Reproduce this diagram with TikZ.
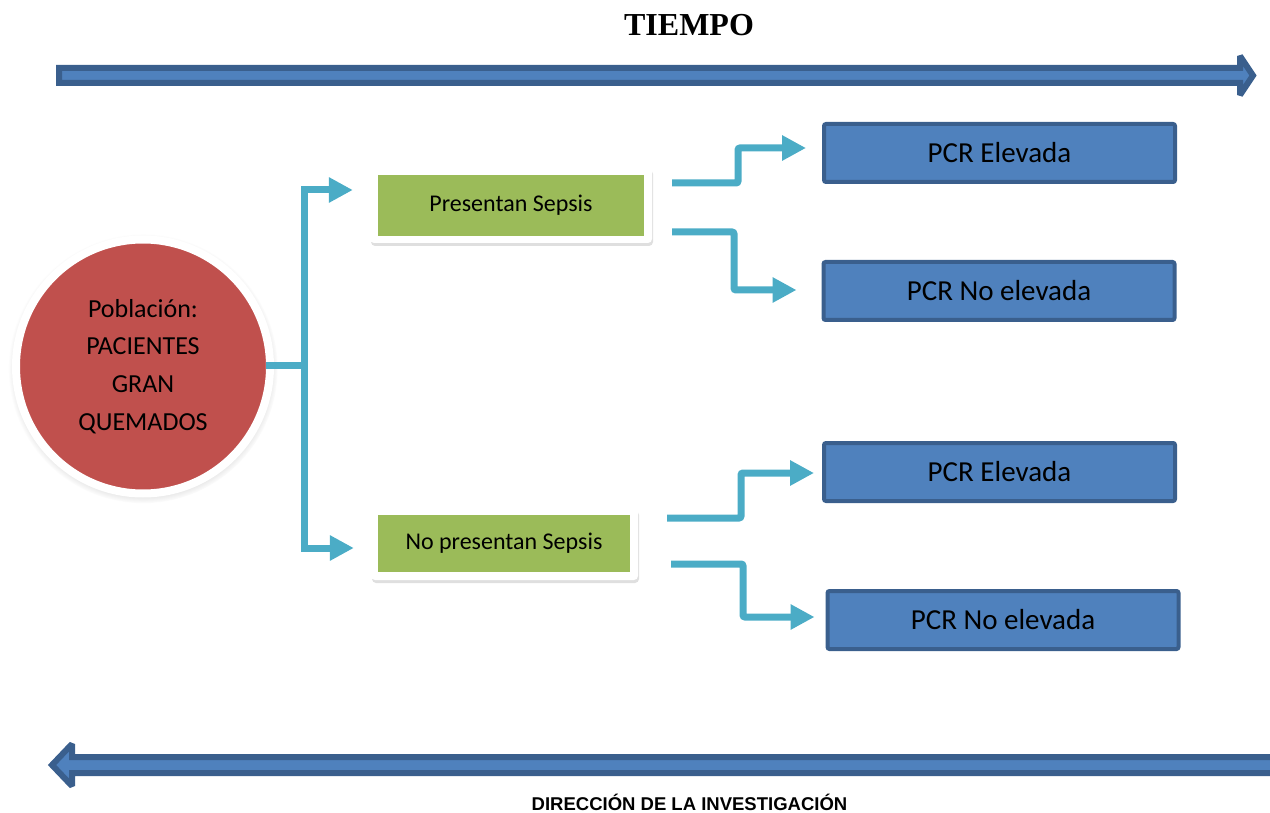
\documentclass[tikz,border=0pt]{standalone}
\usepackage{fontspec}
\setmainfont{Carlito}
\newfontfamily\timesfont{Liberation Serif}
\newfontfamily\arialfont{Liberation Sans}
\usetikzlibrary{arrows.meta,shadows}
\definecolor{blueFill}{HTML}{4F81BD}
\definecolor{blueLine}{HTML}{3A5F8D}
\definecolor{redFill}{HTML}{C0504D}
\definecolor{greenFill}{HTML}{9BBB59}
\definecolor{cyanLine}{HTML}{4BACC6}
\tikzset{
  blockarrow/.style={fill=blueFill,draw=blueLine,line width=6pt,line join=miter,miter limit=2},
  pcrbox/.style={rectangle,rounded corners=2pt,fill=blueFill,draw=blueLine,line width=4pt,
    minimum width=351pt,minimum height=58pt,inner sep=0pt,font=\fontsize{29}{34}\selectfont},
  frame/.style={rectangle,rounded corners=4pt,fill=white,inner sep=0pt,
    drop shadow={shadow xshift=1pt,shadow yshift=-3pt,opacity=0.25}},
  greenbox/.style={rectangle,fill=greenFill,inner sep=0pt,font=\fontsize{24}{28}\selectfont},
  conn/.style={draw=cyanLine,line width=7pt,line join=miter,rounded corners=2pt},
  tip/.style={-{Triangle[length=24pt,width=24pt]}},
}
\begin{document}
\begin{tikzpicture}[x=1pt,y=-1pt]
\useasboundingbox (0,0) rectangle (1270,813);

% title
\node[font=\timesfont\bfseries\fontsize{32}{36}\selectfont] (title) at (689,25) {TIEMPO};

% top time arrow
\draw[blockarrow] (59,68) -- (1240,68) -- (1240,56) -- (1253,75.5) -- (1240,95) -- (1240,83) -- (59,83) -- cycle;

% bottom direction arrow
\draw[blockarrow] (1280,757) -- (72,757) -- (72,744) -- (52,765) -- (72,786) -- (72,773) -- (1280,773) -- cycle;
\node[inner sep=0pt,font=\arialfont\bfseries\fontsize{18.5}{20}\selectfont] (dir) at (689.5,802) {DIRECCIÓN DE LA INVESTIGACIÓN};

% population circle
\node[circle,minimum size=254pt,inner sep=0pt,fill=redFill,draw=white,line width=8pt,
  circular drop shadow={shadow xshift=0pt,shadow yshift=-2pt,shadow scale=1.06,opacity=0.5},
  align=center,font=\fontsize{26}{37.7}\selectfont] (pob) at (143,366.5)
  {Población:\\PACIENTES\\GRAN\\QUEMADOS};

% green boxes
\node[frame,minimum width=282pt,minimum height=76pt] (psf) at (511,205) {};
\node[greenbox,minimum width=266pt,minimum height=61pt] (ps) at (511,205.5) {Presentan Sepsis};
\node[frame,minimum width=267pt,minimum height=72pt] (npsf) at (504.5,544) {};
\node[greenbox,minimum width=252pt,minimum height=57pt] (nps) at (504,543.5) {No presentan Sepsis};

% PCR boxes
\node[pcrbox] (pcr1) at (999.5,153) {PCR Elevada};
\node[pcrbox] (pcr2) at (999,291) {PCR No elevada};
\node[pcrbox] (pcr3) at (999.5,472) {PCR Elevada};
\node[pcrbox] (pcr4) at (1003,620) {PCR No elevada};

% connectors from population
\coordinate (trunk) at (304,365);
\draw[conn,rounded corners=0pt] ([xshift=-8pt,yshift=1.5pt]pob.east) -- (trunk);
\draw[conn,{Triangle[length=24pt,width=24pt]}-{Triangle[length=24pt,width=24pt]},rounded corners=0pt]
  ([xshift=-17pt]psf.west |- 0,190) -- (304,190) -- (304,548) -- ([xshift=-17pt]npsf.west |- 0,548);

% connectors from Presentan Sepsis
\coordinate (a1) at (672,183);
\coordinate (a2) at (672,232);
\draw[conn,tip] (a1) -- (738,183) -- (738,148) -- ([xshift=-16pt]pcr1.west |- 0,148);
\draw[conn,tip] (a2) -- (734,232) -- (734,290) -- ([xshift=-25pt]pcr2.west |- 0,290);

% connectors from No presentan Sepsis
\coordinate (b1) at (667,518);
\coordinate (b2) at (671,564);
\draw[conn,tip] (b1) -- (741,518) -- (741,473) -- ([xshift=-8pt]pcr3.west |- 0,473);
\draw[conn,tip] (b2) -- (743,564) -- (743,617) -- ([xshift=-11pt]pcr4.west |- 0,617);
\end{tikzpicture}
\end{document}
